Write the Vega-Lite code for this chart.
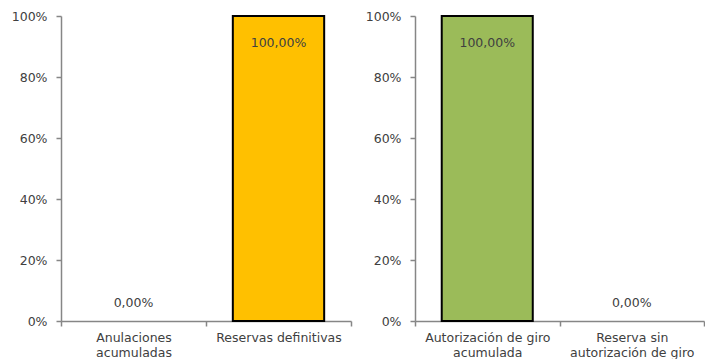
{
  "$schema": "https://vega.github.io/schema/vega-lite/v6.json",
  "padding": {"left": 11, "top": 10, "right": 3, "bottom": 0},
  "spacing": 13,
  "config": {
    "locale": {"number": {"decimal": ",", "thousands": ".", "grouping": [3], "currency": ["", " €"]}},
    "view": {"stroke": null},
    "font": "DejaVu Sans",
    "axis": {
      "domainColor": "#868686",
      "domainWidth": 1.5,
      "tickColor": "#868686",
      "tickWidth": 1.5,
      "tickSize": 5,
      "labelColor": "#404040",
      "labelFontSize": 12.5,
      "labelFont": "DejaVu Sans",
      "grid": false,
      "title": null
    }
  },
  "datasets": {
    "reservas": [
      {"categoria": "Anulaciones acumuladas", "valor": 0},
      {"categoria": "Reservas definitivas", "valor": 1}
    ],
    "giro": [
      {"categoria": "Autorización de giro acumulada", "valor": 1},
      {"categoria": "Reserva sin autorización de giro", "valor": 0}
    ]
  },
  "hconcat": [
    {
      "width": 290,
      "height": 305,
      "data": {"name": "reservas"},
      "encoding": {
        "x": {
          "field": "categoria", "type": "nominal", "title": null,
          "sort": ["Anulaciones acumuladas", "Reservas definitivas"],
          "scale": {"domain": ["Anulaciones acumuladas", "Reservas definitivas"], "paddingInner": 0, "paddingOuter": 0},
          "axis": {
            "labelAngle": 0, "tickBand": "extent", "labelPadding": 5, "labelLineHeight": 15,
            "labelExpr": "datum.value == 'Anulaciones acumuladas' ? ['Anulaciones', 'acumuladas'] : datum.value == 'Reservas definitivas' ? 'Reservas definitivas' : ''"
          }
        },
        "y": {
          "field": "valor", "type": "quantitative", "title": null,
          "scale": {"domain": [0, 1]},
          "axis": {"format": ".0%", "values": [0, 0.2, 0.4, 0.6, 0.8, 1], "labelPadding": 9}
        }
      },
      "layer": [
        {
          "transform": [{"filter": "datum.valor > 0"}],
          "mark": {"type": "bar", "color": "#FFC000", "stroke": "#000000", "strokeWidth": 2, "width": {"band": 0.63}}
        },
        {
          "transform": [{"filter": "datum.valor >= 0.5"}],
          "mark": {"type": "text", "baseline": "middle", "dy": 27, "fontSize": 12.5, "color": "#404040"},
          "encoding": {"text": {"field": "valor", "type": "quantitative", "format": ".2%"}}
        },
        {
          "transform": [{"filter": "datum.valor < 0.5"}],
          "mark": {"type": "text", "baseline": "middle", "dy": -18, "fontSize": 12.5, "color": "#404040"},
          "encoding": {"text": {"field": "valor", "type": "quantitative", "format": ".2%"}}
        }
      ]
    },
    {
      "width": 289,
      "height": 305,
      "data": {"name": "giro"},
      "encoding": {
        "x": {
          "field": "categoria", "type": "nominal", "title": null,
          "sort": ["Autorización de giro acumulada", "Reserva sin autorización de giro"],
          "scale": {"domain": ["Autorización de giro acumulada", "Reserva sin autorización de giro"], "paddingInner": 0, "paddingOuter": 0},
          "axis": {
            "labelAngle": 0, "tickBand": "extent", "labelPadding": 5, "labelLineHeight": 15,
            "labelExpr": "datum.value == 'Autorización de giro acumulada' ? ['Autorización de giro', 'acumulada'] : datum.value == 'Reserva sin autorización de giro' ? ['Reserva sin', 'autorización de giro'] : ''"
          }
        },
        "y": {
          "field": "valor", "type": "quantitative", "title": null,
          "scale": {"domain": [0, 1]},
          "axis": {"format": ".0%", "values": [0, 0.2, 0.4, 0.6, 0.8, 1], "labelPadding": 9}
        }
      },
      "layer": [
        {
          "transform": [{"filter": "datum.valor > 0"}],
          "mark": {"type": "bar", "color": "#9BBB59", "stroke": "#000000", "strokeWidth": 2, "width": {"band": 0.63}}
        },
        {
          "transform": [{"filter": "datum.valor >= 0.5"}],
          "mark": {"type": "text", "baseline": "middle", "dy": 27, "fontSize": 12.5, "color": "#404040"},
          "encoding": {"text": {"field": "valor", "type": "quantitative", "format": ".2%"}}
        },
        {
          "transform": [{"filter": "datum.valor < 0.5"}],
          "mark": {"type": "text", "baseline": "middle", "dy": -18, "fontSize": 12.5, "color": "#404040"},
          "encoding": {"text": {"field": "valor", "type": "quantitative", "format": ".2%"}}
        }
      ]
    }
  ]
}
